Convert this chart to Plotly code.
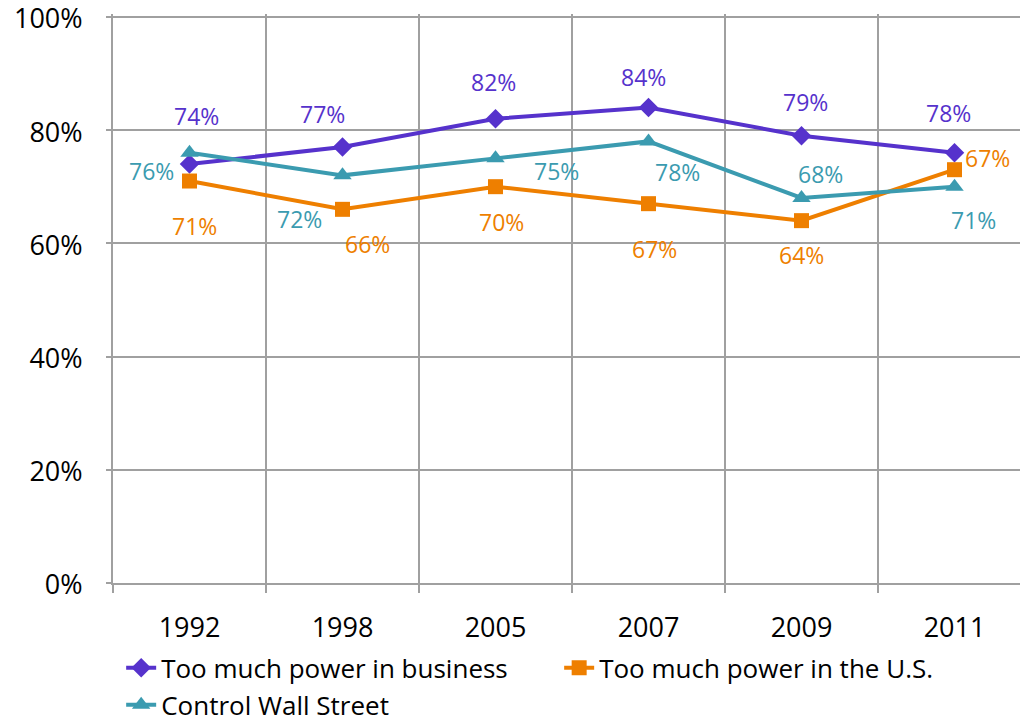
import plotly.graph_objects as go

years = ["1992", "1998", "2005", "2007", "2009", "2011"]
business = [74, 77, 82, 84, 79, 76]
us_power = [71, 66, 70, 67, 64, 73]
wall_street = [76, 72, 75, 78, 68, 70]

business_labels = ["74%", "77%", "82%", "84%", "79%", "78%"]
us_power_labels = ["71%", "66%", "70%", "67%", "64%", "67%"]
wall_street_labels = ["76%", "72%", "75%", "78%", "68%", "71%"]

y_ticks = [0, 20, 40, 60, 80, 100]

# label offsets in pixels (dx right, dy down) relative to each point
business_off = [(7, -48), (-20, -33), (-2, -37), (-5, -30), (4, -34), (-6, -40)]
us_power_off = [(5, 45), (25, 35), (6, 35), (6, 45), (0, 34), (33, -12)]
wall_street_off = [(-38, 18), (-43, 44), (61, 13), (29, 31), (19, -24), (19, 33)]

PURPLE = "#5632CC"
ORANGE = "#EE7F00"
TEAL = "#3B9BB0"
GRID = "#A0A0A0"
FONT = "Open Sans"

fig = go.Figure()
series = [
    ("Too much power in business", business, PURPLE, "diamond", 15),
    ("Too much power in the U.S.", us_power, ORANGE, "square", 15),
    ("Control Wall Street", wall_street, TEAL, "triangle-up", 16),
]
for name, vals, col, sym, sz in series:
    fig.add_trace(go.Scatter(
        x=years, y=vals, name=name, mode="lines+markers",
        line=dict(color=col, width=4),
        marker=dict(symbol=sym, size=sz, color=col),
    ))

label_sets = [
    (business, business_labels, business_off, PURPLE),
    (us_power, us_power_labels, us_power_off, ORANGE),
    (wall_street, wall_street_labels, wall_street_off, TEAL),
]
for vals, labs, offs, col in label_sets:
    for i, (v, lab, (dx, dy)) in enumerate(zip(vals, labs, offs)):
        fig.add_annotation(
            x=i, y=v, xref="x", yref="y", text=lab, showarrow=False,
            xshift=dx, yshift=-dy,
            font=dict(family=FONT, size=23, color=col),
        )

fig.update_layout(
    width=1020, height=723,
    margin=dict(l=113, r=0, t=14, b=140, autoexpand=False),
    paper_bgcolor="white", plot_bgcolor="white",
    font=dict(family=FONT, color="black"),
    showlegend=True,
    legend=dict(
        orientation="h",
        x=0.009, y=-0.108, xanchor="left", yanchor="top",
        font=dict(family=FONT, size=26, color="black"),
        entrywidth=393, entrywidthmode="pixels",
        traceorder="normal", tracegroupgap=0,
    ),
)
fig.update_xaxes(
    type="category", range=[-0.5, 5.428],
    showgrid=True, gridcolor=GRID, gridwidth=2,
    tickson="boundaries", ticks="outside", ticklen=8, tickcolor=GRID, tickwidth=2,
    showline=True, linecolor=GRID, linewidth=2, zeroline=False,
    tickfont=dict(family=FONT, size=27, color="black"),
    ticklabelstandoff=20,
)
fig.update_yaxes(
    range=[0, 100.5], tickmode="array", tickvals=y_ticks,
    ticktext=[f"{v}%" for v in y_ticks],
    showgrid=True, gridcolor=GRID, gridwidth=2,
    ticks="outside", ticklen=5, tickcolor=GRID, tickwidth=2,
    showline=True, linecolor=GRID, linewidth=2,
    zeroline=False,
    tickfont=dict(family=FONT, size=27, color="black"),
    ticklabelstandoff=18, ticklabeloverflow="allow", ticklabelshift=2,
)

fig.write_html(
    "out.html",
    config={"displayModeBar": False},
    post_script="document.body.style.margin='0';document.body.style.overflow='hidden';",
)
